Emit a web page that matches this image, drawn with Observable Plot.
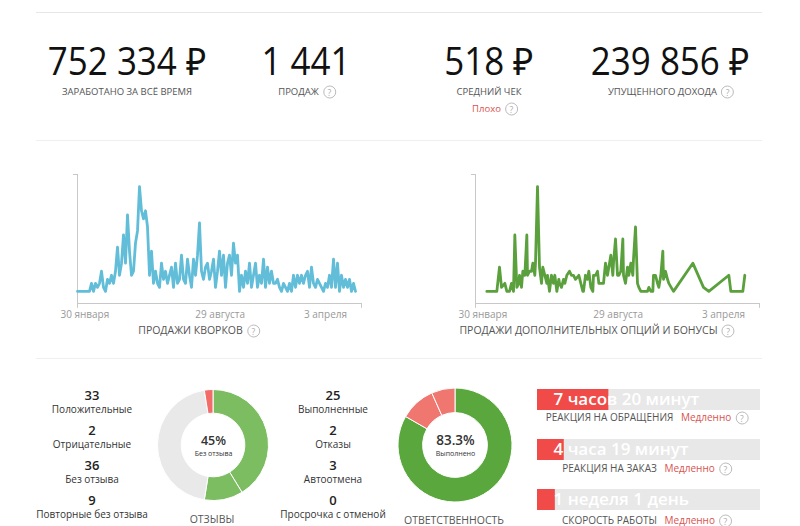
<!DOCTYPE html>
<html><head><meta charset="utf-8">
<script src="https://cdn.jsdelivr.net/npm/d3@7"></script>
<script src="https://cdn.jsdelivr.net/npm/@observablehq/plot@0.6"></script>
<style>
html,body{margin:0;padding:0}
body{width:800px;height:526px;overflow:hidden;background:#fff;font-family:"Open Sans",sans-serif;position:relative;color:#333}
.hr{position:absolute;left:36px;width:726px;height:1px;background:#e6e6e6}
.t{position:absolute;white-space:nowrap;line-height:1;transform:translate(-50%,-50%)}
.big{font-size:38px;font-weight:400;color:#111;transform:translate(-50%,-50%) scaleX(.92)}
.klbl{font-size:9.5px;color:#555;text-transform:uppercase}
.bad{font-size:9.5px;color:#d9534f}
.num{font-size:13px;font-weight:600;color:#222}
.slbl{font-size:10px;color:#333}
.clbl{font-size:10.5px;color:#555}
.blbl{font-size:10px;color:#555}
.q{display:inline-block;width:11px;height:11px;border:1px solid #bbb;border-radius:50%;color:#aaa;font-size:8.5px;line-height:11px;text-align:center;vertical-align:middle;margin-left:4px;box-sizing:content-box}
.plot{position:absolute}
</style>
</head><body>
<div class="hr" style="top:12px"></div>
<div class="hr" style="top:140px;background:#efefef"></div>
<div class="hr" style="top:358px;background:#efefef"></div>
<script>
// ---------- DATA ----------
const kpiValues = ["752 334 ₽", "1 441", "518 ₽", "239 856 ₽"];
const kpiLabels = ["ЗАРАБОТАНО ЗА ВСЁ ВРЕМЯ", "ПРОДАЖ", "СРЕДНИЙ ЧЕК", "УПУЩЕННОГО ДОХОДА"];
const kpiHelp = [false, true, false, true];
const kpiNotes = ["", "", "Плохо", ""];

const axisTickLabels = ["30 января", "29 августа", "3 апреля"];
const axisTickDays = [11, 214, 372];

// kwork sales, one reading every 3 days
const kworkSales = [2,2,2,2,2,2,2,4,2,4,3,4,7,3,2,5,4,6,4,7,13,6,9,16,9,21,12,6,7,14,17,28,22,20,22,18,6,12,4,7,4,3,9,5,7,4,6,8,3,9,4,5,11,5,4,10,6,3,10,6,11,19,7,5,8,9,5,7,10,3,7,12,6,11,3,9,11,6,14,9,11,2,6,3,7,4,9,3,6,9,3,6,4,10,3,8,4,7,4,4,5,3,2,4,3,2,4,2,6,3,6,4,6,4,6,7,3,8,4,3,5,4,3,2,4,3,6,3,10,3,9,2,6,3,5,3,5,2,4,2];

const extraDays = [17,32,36,39,44,47,51,54,57,59,62,65,66,69,71,74,77,78,81,84,86,89,90,93,96,99,101,104,107,108,111,114,117,119,122,125,126,129,132,134,137,141,144,147,150,155,158,161,162,165,168,170,173,176,177,180,183,185,189,192,195,198,200,203,206,207,210,213,215,218,221,222,225,228,230,233,236,237,240,243,245,248,252,258,260,263,266,267,270,273,275,278,281,282,285,288,290,297,326,342,350,380,383,401,404];
const extraSales = [2,2,8,3,4,2,2,4,2,16,3,4,6,3,7,6,16,6,7,7,9,6,9,28,8,4,8,6,4,6,2,6,4,6,2,5,4,3,5,4,6,7,6,6,5,6,4,2,2,6,5,7,3,2,6,6,7,4,4,4,9,6,8,11,6,9,15,6,6,7,15,6,4,8,6,9,6,10,18,4,3,2,2,2,3,2,2,6,6,4,3,6,12,5,7,5,4,2,9,3,2,6,2,2,6];

const reviewLabels = ["Положительные", "Отрицательные", "Без отзыва", "Повторные без отзыва"];
const reviewCounts = [33, 2, 36, 9];
const reviewRingOrder = ["Положительные", "Повторные без отзыва", "Без отзыва", "Отрицательные"];
const reviewCenterValue = "45%";
const reviewCenterLabel = "Без отзыва";

const orderLabels = ["Выполненные", "Отказы", "Автоотмена", "Просрочка с отменой"];
const orderCounts = [25, 2, 3, 0];
const orderRingOrder = ["Выполненные", "Автоотмена", "Отказы", "Просрочка с отменой"];
const orderCenterValue = "83.3%";
const orderCenterLabel = "Выполнено";

const speedLabels = ["РЕАКЦИЯ НА ОБРАЩЕНИЯ", "РЕАКЦИЯ НА ЗАКАЗ", "СКОРОСТЬ РАБОТЫ"];
const speedTimes = ["7 часов 20 минут", "4 часа 19 минут", "1 неделя 1 день"];
const speedShare = [32, 12, 8];
const speedRating = ["Медленно", "Медленно", "Медленно"];

// ---------- HELPERS ----------
const Q = '<span class="q">?</span>';
function place(html, cx, cy, cls) {
  const d = document.createElement("div");
  d.className = "t " + cls;
  d.style.left = cx + "px";
  d.style.top = cy + "px";
  d.innerHTML = html;
  document.body.appendChild(d);
  return d;
}
function put(svg, left, top) {
  svg.classList.add("plot");
  svg.style.left = left + "px";
  svg.style.top = top + "px";
  document.body.appendChild(svg);
}

// ---------- KPI ROW ----------
const kpiX = [127, 306, 489, 670];
kpiValues.forEach((v, i) => {
  place(v, kpiX[i], 60, "big");
  place(kpiLabels[i] + (kpiHelp[i] ? Q : ""), kpiX[i] + (kpiHelp[i] ? 1 : 0), 92, "klbl");
  if (kpiNotes[i]) place(kpiNotes[i] + Q, kpiX[i] + 6, 109, "bad");
});

// ---------- LINE CHARTS ----------
function lineChart(data, color) {
  const lastDay = 426;
  return Plot.plot({
    width: 330, height: 160,
    marginLeft: 37, marginRight: 9, marginTop: 9, marginBottom: 22,
    style: {fontFamily: "Open Sans", fontSize: "10px", color: "#999", background: "transparent", overflow: "visible"},
    x: {domain: [0, lastDay], ticks: axisTickDays, tickFormat: (d) => axisTickLabels[axisTickDays.indexOf(d)], tickSize: 0, tickPadding: 7, label: null},
    y: {domain: [-1, 31], axis: null},
    marks: [
      Plot.ruleY([-1], {stroke: "#c8c8c8"}),
      Plot.ruleX([0], {stroke: "#c8c8c8"}),
      Plot.ruleX([0, lastDay], {y1: -1, y2: -2.2, stroke: "#c8c8c8"}),
      Plot.ruleY([31], {x1: -6, x2: 0, stroke: "#c8c8c8"}),
      Plot.line(data, {x: "day", y: "sales", stroke: color, strokeWidth: 2.8, strokeLinejoin: "round"})
    ]
  });
}
const kworkData = kworkSales.map((s, i) => ({day: i * 3, sales: s}));
const extraData = extraDays.map((d, i) => ({day: d, sales: extraSales[i]}));
put(lineChart(kworkData, "#62bdd9"), 40, 165);
put(lineChart(extraData, "#5aa03c"), 438, 165);
place("ПРОДАЖИ КВОРКОВ" + Q, 199, 331, "clbl");
place("ПРОДАЖИ ДОПОЛНИТЕЛЬНЫХ ОПЦИЙ И БОНУСЫ" + Q, 597, 331, "clbl");

// ---------- STAT COLUMNS ----------
reviewCounts.forEach((c, i) => {
  place(String(c), 92, 395 + 35 * i, "num");
  place(reviewLabels[i], 92, 409 + 35 * i, "slbl");
});
orderCounts.forEach((c, i) => {
  place(String(c), 333, 395 + 35 * i, "num");
  place(orderLabels[i], 333, 409 + 35 * i, "slbl");
});

// ---------- DONUTS ----------
function donut(labels, counts, order, colorScale, rOuter, rInner, centerValue, centerLabel, valueSize) {
  const slices = order.map(l => ({label: l, count: counts[labels.indexOf(l)]})).filter(d => d.count > 0);
  const ring = (index, scales) => {
    const cx = scales.x(0), cy = scales.y(0);
    const unit = scales.x(1) - scales.x(0);
    const arcs = d3.pie().sort(null).value(d => d.count)(slices);
    const arc = d3.arc().innerRadius(rInner * unit).outerRadius(rOuter * unit);
    const g = d3.create("svg:g").attr("transform", `translate(${cx},${cy})`);
    g.selectAll("path").data(arcs).join("path")
      .attr("d", arc)
      .attr("fill", d => colorScale.apply(d.data.label))
      .attr("stroke", "#fff").attr("stroke-width", 1);
    return g.node();
  };
  return Plot.plot({
    width: 120, height: 120, margin: 0,
    style: {fontFamily: "Open Sans", background: "transparent", color: "#333"},
    x: {domain: [-1, 1], axis: null},
    y: {domain: [-1, 1], axis: null},
    marks: [
      ring,
      Plot.text([{x: 0, y: 0}], {x: "x", y: "y", text: () => centerValue, dy: -5, fontSize: valueSize, fontWeight: 600, fill: "#333"}),
      Plot.text([{x: 0, y: 0}], {x: "x", y: "y", text: () => centerLabel, dy: 8, fontSize: 7, fill: "#333"})
    ]
  });
}
const reviewColor = Plot.scale({color: {domain: reviewRingOrder, range: ["#7cbd62", "#7cbd62", "#e9e9e9", "#f26d6a"]}});
const orderColor = Plot.scale({color: {domain: orderRingOrder, range: ["#5aa83d", "#f07770", "#f07770", "#f07770"]}});
put(donut(reviewLabels, reviewCounts, reviewRingOrder, reviewColor, 0.925, 0.53, reviewCenterValue, reviewCenterLabel, 12.5), 152.5, 385);
put(donut(orderLabels, orderCounts, orderRingOrder, orderColor, 0.95, 0.54, orderCenterValue, orderCenterLabel, 13.5), 394.5, 385);
place("ОТЗЫВЫ", 212, 519, "clbl");
place("ОТВЕТСТВЕННОСТЬ", 454, 520, "clbl");

// ---------- SPEED BARS ----------
const speedData = speedLabels.map((l, i) => ({name: l, share: speedShare[i], time: speedTimes[i]}));
const bars = Plot.plot({
  width: 223, height: 140, marginLeft: 0, marginRight: 0, marginTop: 9, marginBottom: 8,
  style: {fontFamily: "Open Sans", background: "transparent", overflow: "visible"},
  x: {domain: [0, 100], axis: null},
  y: {domain: speedLabels, axis: null, paddingInner: 0.588, paddingOuter: 0, align: 0},
  marks: [
    Plot.barX(speedData, {x1: 0, x2: 100, y: "name", fill: "#e8e8e8"}),
    Plot.barX(speedData, {x1: 0, x2: "share", y: "name", fill: "#f04b48"}),
    Plot.text(speedData, {x: 0, y: "name", text: "time", dx: 16, textAnchor: "start", fill: "#fff", fontSize: 17, fontWeight: 600})
  ]
});
put(bars, 537, 380);
const labY = [418, 469, 521];
speedLabels.forEach((l, i) => {
  place(l + ' <span style="color:#d9534f;margin-left:5px">' + speedRating[i] + '</span>' + Q, 647, labY[i], "blbl");
});
</script>
</body></html>
